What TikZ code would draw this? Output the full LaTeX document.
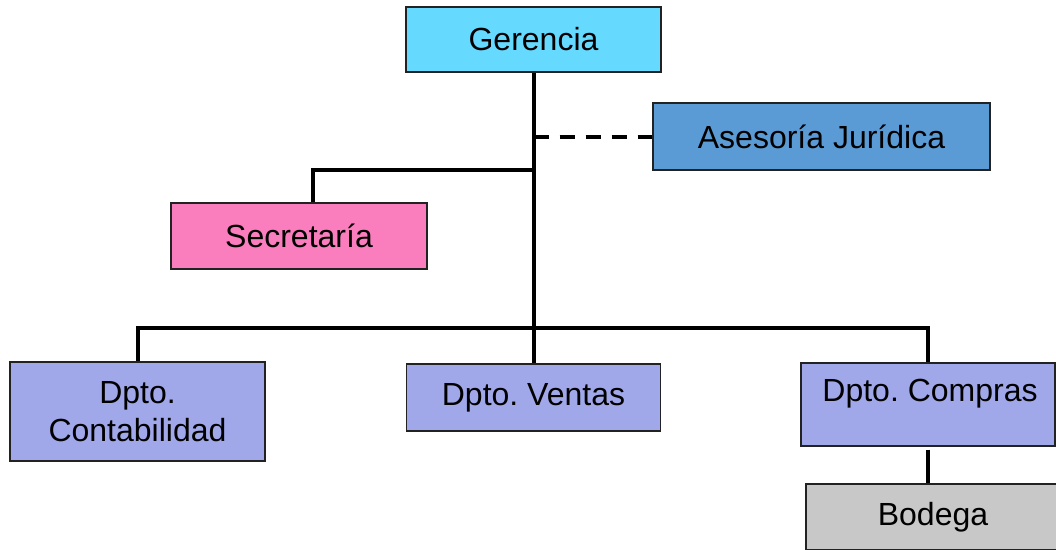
\documentclass[tikz,border=0pt]{standalone}
\usepackage{fontspec}
\setmainfont{Liberation Sans}
\frenchspacing
\usetikzlibrary{backgrounds}
\definecolor{cGer}{RGB}{102,217,255}
\definecolor{cAse}{RGB}{91,155,213}
\definecolor{cSec}{RGB}{250,125,190}
\definecolor{cDpt}{RGB}{160,168,234}
\definecolor{cBod}{RGB}{200,200,200}
\definecolor{cEdge}{RGB}{34,34,34}
\tikzset{
  box/.style={draw=cEdge, line width=1.3pt, inner sep=0pt, align=center,
    font=\fontsize{32}{38}\selectfont\frenchspacing},
  conn/.style={line width=4pt, black},
  txt/.style={inner sep=0pt, font=\fontsize{32}{38}\selectfont\frenchspacing}
}
\begin{document}
\begin{tikzpicture}[x=1pt,y=-1pt]
\useasboundingbox (0,0) rectangle (1056,549);
\node[box, fill=cGer, minimum width=255pt, minimum height=65pt] (ger) at (533.5,39.5) {Gerencia};
\node[box, fill=cAse, minimum width=337pt, minimum height=67pt] (ase) at (821.5,136.5) {Asesoría Jurídica};
\node[box, fill=cSec, minimum width=256pt, minimum height=66pt] (sec) at (299,236) {Secretaría};
\node[box, fill=cDpt, minimum width=255pt, minimum height=99pt] (cont) at (137.5,411.5) {Dpto.\\Contabilidad};
\node[box, fill=cDpt, minimum width=254pt, minimum height=67pt] (ven) at (533.5,397.5) {Dpto. Ventas};
\node[box, fill=cDpt, minimum width=254pt, minimum height=83pt] (comp) at (928,404.5) {};
\node[txt] (comptxt) at (930,394) {Dpto. Compras};
\node[box, fill=cBod, minimum width=254pt, minimum height=66pt] (bod) at (933,517) {Bodega};
\coordinate (secin) at (313,203);
\coordinate (j1) at (533.5,170);
\coordinate (bus) at (533.5,328);
\begin{scope}[on background layer]
\draw[conn] (ger.south) -- (ven.north);
\draw[conn, dash pattern=on 15pt off 11pt] (ger.south |- ase.west) -- (ase.west);
\draw[conn] (j1) -| (secin);
\draw[conn] (cont.north) |- (bus) -| (comp.north);
\draw[conn, shorten <=3pt] (comp.south -| 928,0) -- (bod.north -| 928,0);
\end{scope}
\end{tikzpicture}
\end{document}
